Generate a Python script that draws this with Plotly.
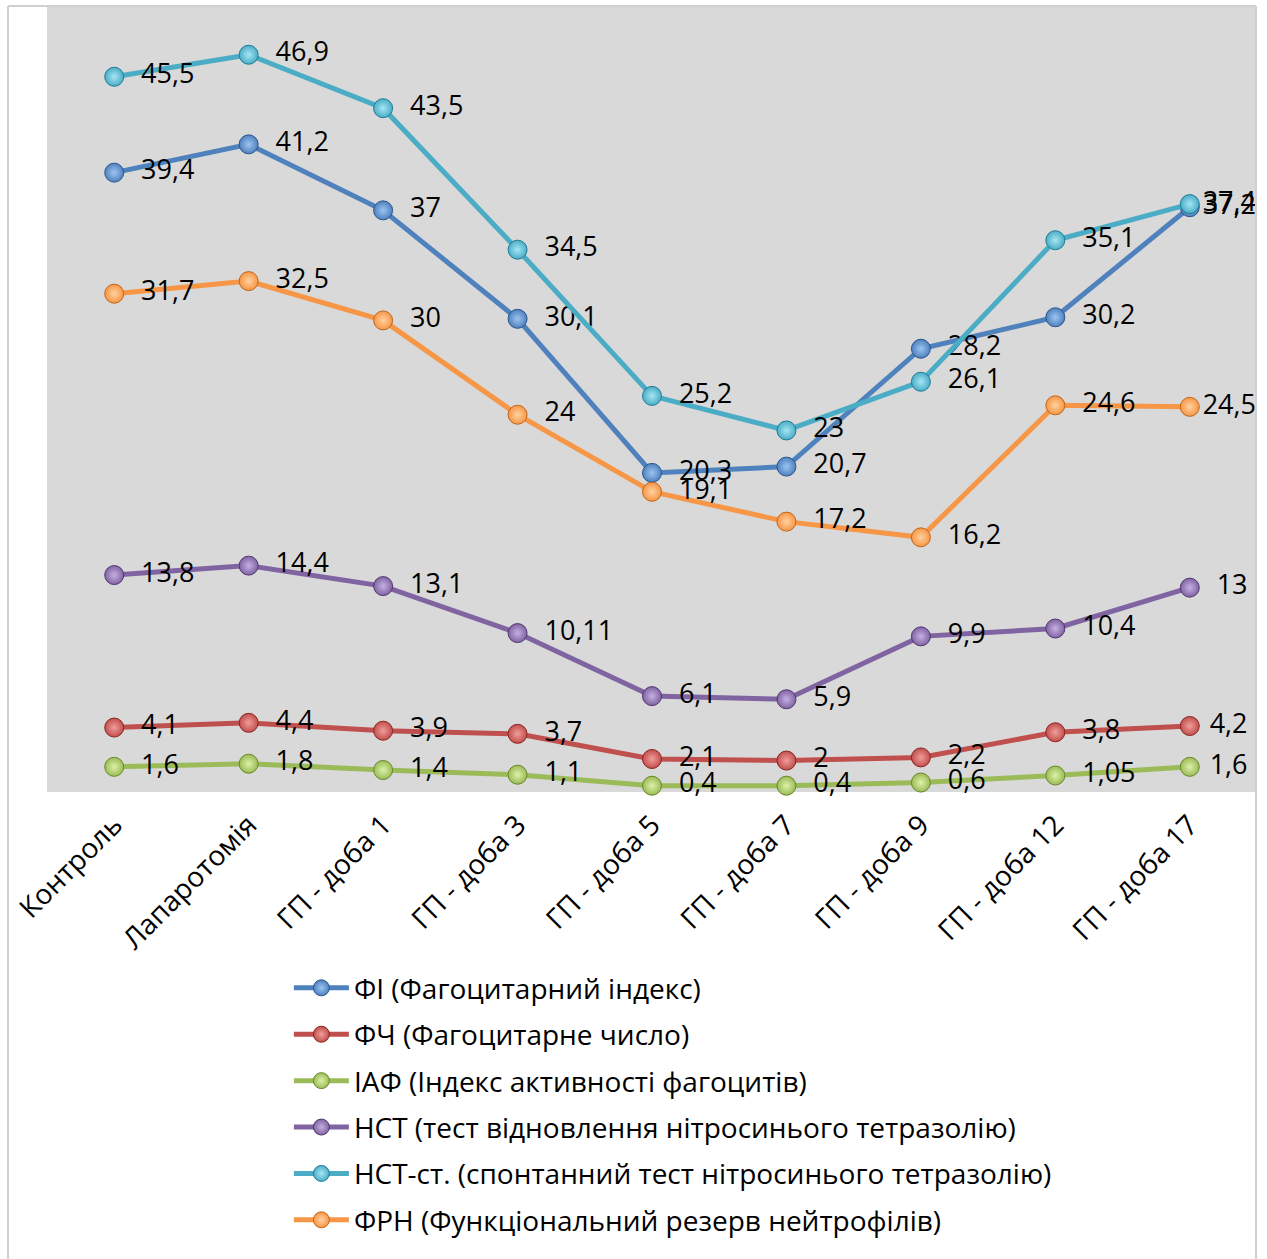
import plotly.graph_objects as go

categories = ["Контроль", "Лапаротомія", "ГП - доба 1", "ГП - доба 3", "ГП - доба 5",
              "ГП - доба 7", "ГП - доба 9", "ГП - доба 12", "ГП - доба 17"]

fi = [39.4, 41.2, 37, 30.1, 20.3, 20.7, 28.2, 30.2, 37.2]
fch = [4.1, 4.4, 3.9, 3.7, 2.1, 2, 2.2, 3.8, 4.2]
iaf = [1.6, 1.8, 1.4, 1.1, 0.4, 0.4, 0.6, 1.05, 1.6]
nst = [13.8, 14.4, 13.1, 10.11, 6.1, 5.9, 9.9, 10.4, 13]
nst_st = [45.5, 46.9, 43.5, 34.5, 25.2, 23, 26.1, 35.1, 37.4]
frn = [31.7, 32.5, 30, 24, 19.1, 17.2, 16.2, 24.6, 24.5]

series = [
    ("ФІ (Фагоцитарний індекс)", fi, "#4f81bd", "#9cc4f2", "#2a5590"),
    ("ФЧ (Фагоцитарне число)", fch, "#c0504d", "#f29c9a", "#8c2422"),
    ("ІАФ (Індекс активності фагоцитів)", iaf, "#9bbb59", "#dcf2a6", "#678a25"),
    ("НСТ (тест відновлення нітросинього тетразолію)", nst, "#8064a2", "#c6b0e2", "#523672"),
    ("НСТ-ст. (спонтанний тест нітросинього тетразолію)", nst_st, "#4bacc6", "#a6e6f5", "#1f7d96"),
    ("ФРН (Функціональний резерв нейтрофілів)", frn, "#f79646", "#ffd2a0", "#c0661a"),
]

def fmt(v, last):
    s = ("%g" % v).replace(".", ",")
    # labels at the right edge are pulled inside the chart area
    pad = 2 if not last else max(0, min(2, 4 - len(s)))
    return "\u00a0" * pad + s

FONT = "Open Sans"

fig = go.Figure()
for name, vals, color, light, dark in series:
    n = len(vals)
    fig.add_trace(go.Scatter(
        x=categories, y=vals, name=name, legendgroup=name,
        mode="lines+markers+text",
        line=dict(color=color, width=5),
        marker=dict(size=19, color=color, line=dict(color=dark, width=1),
                    gradient=dict(type="radial", color=light)),
        text=[fmt(v, i == n - 1) for i, v in enumerate(vals)],
        textposition="middle right",
        textfont=dict(family=FONT, size=27, color="#000000"),
        cliponaxis=False,
    ))

fig.update_layout(
    width=1267, height=1259,
    margin=dict(l=47, r=10, t=6, b=467, autoexpand=False),
    paper_bgcolor="#ffffff",
    plot_bgcolor="#d9d9d9",
    font=dict(family=FONT, size=27, color="#000000"),
    showlegend=True,
    legend=dict(
        xref="container", yref="container",
        x=0.228, y=0.235, xanchor="left", yanchor="top",
        font=dict(family=FONT, size=28, color="#000000"),
        itemwidth=55, tracegroupgap=7,
        bgcolor="rgba(0,0,0,0)",
    ),
    xaxis=dict(
        type="category", range=[-0.5, 8.5], automargin=False,
        showgrid=False, zeroline=False, showline=False,
        tickangle=-45, tickfont=dict(family=FONT, size=28, color="#000000"),
        ticks="", ticklabelstandoff=10,
    ),
    yaxis=dict(
        range=[0, 50], showgrid=False, zeroline=False, showline=False, automargin=False,
        showticklabels=False, ticks="",
    ),
    shapes=[
        dict(type="line", xref="paper", yref="paper", x0=-0.0322, x1=-0.0322, y0=1.0, y1=-0.6,
             line=dict(color="#d0d0d0", width=2)),
        dict(type="line", xref="paper", yref="paper", x0=-0.0322, x1=0.9992, y0=1.0, y1=1.0,
             line=dict(color="#d0d0d0", width=2)),
        dict(type="line", xref="paper", yref="paper", x0=0.9992, x1=0.9992, y0=1.0, y1=-0.6,
             line=dict(color="#d0d0d0", width=2)),
    ],
)

fig.write_html("out.html")
